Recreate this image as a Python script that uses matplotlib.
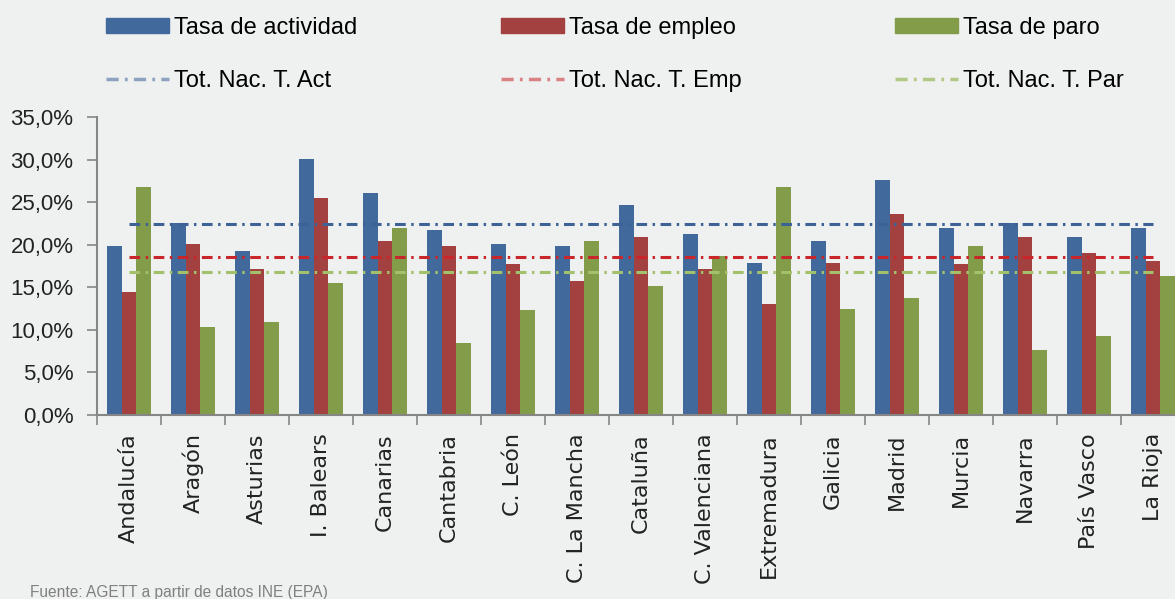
import numpy as np
import matplotlib
matplotlib.use("Agg")
import matplotlib.pyplot as plt
from matplotlib.patches import Patch
from matplotlib.lines import Line2D

regiones = ["Andalucía", "Aragón", "Asturias", "I. Balears", "Canarias",
            "Cantabria", "C. León", "C. La Mancha", "Cataluña",
            "C. Valenciana", "Extremadura", "Galicia", "Madrid", "Murcia",
            "Navarra", "País Vasco", "La Rioja"]

actividad = [19.8, 22.6, 19.3, 30.1, 26.1, 21.7, 20.1, 19.9, 24.7,
             21.2, 17.9, 20.4, 27.6, 22.0, 22.5, 20.9, 22.0]
empleo = [14.4, 20.1, 17.1, 25.5, 20.4, 19.9, 17.7, 15.7, 20.9,
          17.1, 13.0, 17.9, 23.6, 17.7, 20.9, 19.0, 18.1]
paro = [26.8, 10.3, 10.9, 15.5, 22.0, 8.4, 12.3, 20.4, 15.2,
        18.7, 26.8, 12.5, 13.8, 19.9, 7.6, 9.3, 16.3]

tot_act = 22.4
tot_emp = 18.6
tot_par = 16.8

yticks = [0, 5, 10, 15, 20, 25, 30, 35]

c_act = "#41699c"
c_emp = "#a2413f"
c_par = "#839c4a"
c_tact = "#3d6396"
c_temp = "#c8262a"
c_tpar = "#a3c06a"
bg = "#eff0f0"

fuente = ["Liberation Sans", "DejaVu Sans"]

fig = plt.figure(figsize=(11.75, 5.99), dpi=100, facecolor=bg)
ax = fig.add_axes([97 / 1175, 1 - 415 / 599, (1185 - 97) / 1175, (415 - 117) / 599])
ax.set_facecolor(bg)

x = np.arange(len(regiones))
w = 0.225
ax.bar(x - w, actividad, w, color=c_act, zorder=2)
ax.bar(x, empleo, w, color=c_emp, zorder=2)
ax.bar(x + w, paro, w, color=c_par, zorder=2)

dash = (0, (3.5, 1.8, 0.8, 1.8))
ax.plot(x, [tot_act] * len(x), color=c_tact, lw=2.2, ls=dash, zorder=3)
ax.plot(x, [tot_emp] * len(x), color=c_temp, lw=2.2, ls=dash, zorder=3)
ax.plot(x, [tot_par] * len(x), color=c_tpar, lw=2.2, ls=dash, zorder=3)

ax.set_xlim(-0.5, len(x) - 0.5)
ax.set_ylim(0, 35)
ax.set_yticks(yticks)
ax.set_yticklabels([f"{v:.1f}".replace(".", ",") + "%" for v in yticks],
                   family=fuente, fontsize=16, color="#222222")
ax.set_xticks(x)
ax.set_xticklabels(regiones, rotation=90, fontsize=16, color="#222222",
                   va="top")
ax.set_xticks(np.arange(len(x) + 1) - 0.5, minor=True)
ax.tick_params(axis="x", which="major", length=0, pad=13)
ax.tick_params(axis="x", which="minor", length=7, width=1.2, color="#868686")
ax.tick_params(axis="y", length=7, width=1.2, color="#868686", pad=10)

for s in ["top", "right"]:
    ax.spines[s].set_visible(False)
for s in ["left", "bottom"]:
    ax.spines[s].set_color("#868686")
    ax.spines[s].set_linewidth(1.5)

# leyenda en tres columnas, dos filas
entradas = [
    (106, Patch(color=c_act), "Tasa de actividad",
     Line2D([], [], color=c_tact, lw=2.5, ls=dash, alpha=0.55), "Tot. Nac. T. Act"),
    (501, Patch(color=c_emp), "Tasa de empleo",
     Line2D([], [], color=c_temp, lw=2.5, ls=dash, alpha=0.55), "Tot. Nac. T. Emp"),
    (895, Patch(color=c_par), "Tasa de paro",
     Line2D([], [], color=c_tpar, lw=2.5, ls=dash, alpha=0.8), "Tot. Nac. T. Par"),
]
for xpx, h1, l1, h2, l2 in entradas:
    fig.legend([h1, h2], [l1, l2], loc="upper left",
               bbox_to_anchor=(xpx / 1175, 1 - 17 / 599),
               frameon=False, borderpad=0, borderaxespad=0,
               handlelength=2.65, handleheight=0.62, handletextpad=0.25,
               labelspacing=1.3, prop={"family": fuente, "size": 17})

fig.text(30 / 1175, 1 - 592 / 599, "Fuente: AGETT a partir de datos INE (EPA)",
         family="Liberation Sans", fontsize=11.2, color="#808080", va="center")

fig.savefig("out.png", dpi=100, facecolor=bg)
